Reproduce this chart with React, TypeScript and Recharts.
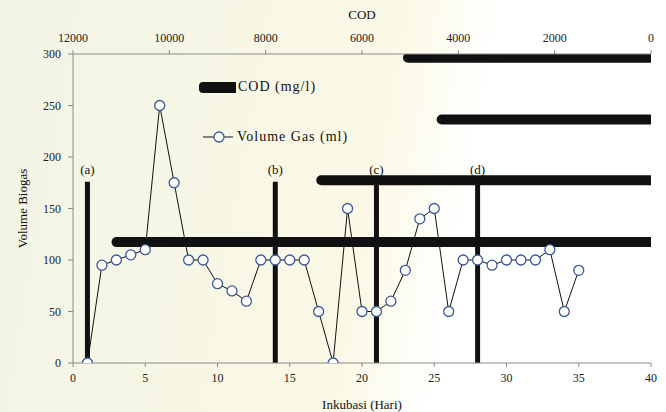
import React from 'react';
import {
  ComposedChart,
  BarChart,
  Bar,
  Line,
  XAxis,
  YAxis,
  ReferenceLine,
  Legend,
} from 'recharts';

// hari inkubasi & volume gas harian (ml)
const days = [
  1, 2, 3, 4, 5, 6, 7, 8, 9, 10, 11, 12, 13, 14, 15, 16, 17, 18,
  19, 20, 21, 22, 23, 24, 25, 26, 27, 28, 29, 30, 31, 32, 33, 34, 35,
];
const volumeGas = [
  0, 95, 100, 105, 110, 250, 175, 100, 100, 77, 70, 60, 100, 100, 100, 100, 50, 0,
  150, 50, 50, 60, 90, 140, 150, 50, 100, 100, 95, 100, 100, 100, 110, 50, 90,
];

// COD (mg/l), bottom bar first, and the volume level each bar sits at
const codValues = [11200, 6950, 4450, 5150];
const codLevel = [117, 177, 236, 296];

// tahap (a)-(d)
const stageLabels = ['(a)', '(b)', '(c)', '(d)'];
const stageDays = [1, 14, 21, 28];
const stageTop = 176;

const dayTicks = [0, 5, 10, 15, 20, 25, 30, 35, 40];
const codTicks = [0, 2000, 4000, 6000, 8000, 10000, 12000];
const volumeTicks = [0, 50, 100, 150, 200, 250, 300];

const gasData = days.map((d, i) => ({ day: d, gas: volumeGas[i] }));
const codData = codValues.map((v, i) => ({ cod: v, level: codLevel[i] }));

const FONT = '"Liberation Serif", "Times New Roman", Times, serif';
const INK = '#111';
const AXIS = '#8a8a8a';
const DOT = '#3d5a96';
const tickStyle = { fontSize: 12, fill: '#222' };
const titleStyle = { fontSize: 13, fill: INK };

const W = 666;
const H = 412;
const M_TOP = 54;
const M_BOTTOM = 49;
const M_LEFT = 73;
const M_RIGHT = 15;

const renderLegend = () => (
  <div style={{ fontSize: 14, letterSpacing: 1, color: INK }}>
    <div style={{ display: 'flex', alignItems: 'center', height: 20 }}>
      <span
        style={{
          display: 'inline-block',
          width: 37,
          height: 11,
          background: INK,
          borderRadius: '4px 0 0 4px',
          marginRight: 2,
        }}
      />
      COD (mg/l)
    </div>
    <div style={{ display: 'flex', alignItems: 'center', height: 20, marginTop: 30, paddingLeft: 4 }}>
      <svg width={30} height={14}>
        <line x1={0} y1={7} x2={30} y2={7} stroke={INK} strokeWidth={1} />
        <circle cx={16} cy={7} r={5} fill="#fff" stroke={DOT} strokeWidth={1.3} />
      </svg>
      <span style={{ marginLeft: 4 }}>Volume Gas (ml)</span>
    </div>
  </div>
);

const yTitle = (props: any) => {
  const { viewBox } = props;
  const cy = viewBox.y + viewBox.height / 2;
  return (
    <text
      x={22}
      y={cy}
      transform={`rotate(-90 22 ${cy})`}
      textAnchor="middle"
      dominantBaseline="central"
      fontSize={13}
      fill={INK}
    >
      Volume Biogas
    </text>
  );
};

export default function App() {
  return (
    <div
      style={{
        position: 'absolute',
        left: 0,
        top: 0,
        width: W,
        height: H,
        fontFamily: FONT,
        background: 'linear-gradient(100deg, #f2f4e6 0%, #fbf9e6 55%, #ffffff 68%)',
      }}
    >
      {/* COD bars, on the top (reversed) axis */}
      <div style={{ position: 'absolute', left: 0, top: 0 }}>
        <BarChart
          width={W}
          height={H}
          data={codData}
          layout="vertical"
          margin={{ top: 0, right: M_RIGHT, bottom: M_BOTTOM, left: M_LEFT }}
        >
          <XAxis
            type="number"
            dataKey="cod"
            orientation="top"
            domain={[0, 12000]}
            ticks={codTicks}
            reversed
            allowDataOverflow
            height={M_TOP}
            stroke={AXIS}
            tickSize={4}
            tickMargin={8}
            tick={tickStyle}
            label={{ value: 'COD', position: 'insideTop', offset: 10, style: titleStyle }}
          />
          <YAxis type="number" dataKey="level" domain={[0, 300]} allowDataOverflow reversed hide />
          <Bar
            dataKey="cod"
            barSize={10}
            fill={INK}
            radius={[0, 5, 5, 0]}
            isAnimationActive={false}
          />
        </BarChart>
      </div>

      {/* volume gas + stage markers */}
      <div style={{ position: 'absolute', left: 0, top: 0 }}>
        <ComposedChart
          width={W}
          height={H}
          data={gasData}
          margin={{ top: M_TOP, right: M_RIGHT, bottom: 0, left: 0 }}
        >
          <XAxis
            dataKey="day"
            type="number"
            domain={[0, 40]}
            ticks={dayTicks}
            allowDataOverflow
            height={M_BOTTOM}
            stroke={AXIS}
            tickSize={4}
            tickMargin={6}
            tick={tickStyle}
            label={{ value: 'Inkubasi (Hari)', position: 'insideBottom', offset: 3, style: titleStyle }}
          />
          <YAxis
            type="number"
            domain={[0, 300]}
            ticks={volumeTicks}
            allowDataOverflow
            width={M_LEFT}
            stroke={AXIS}
            tickSize={5}
            tickMargin={7}
            tick={tickStyle}
            label={yTitle}
          />

          {stageDays.map((d, i) => (
            <ReferenceLine
              key={`stage-${i}`}
              segment={[
                { x: d, y: 0 },
                { x: d, y: stageTop },
              ]}
              stroke={INK}
              strokeWidth={5}
              ifOverflow="visible"
              label={{ value: stageLabels[i], position: 'top', offset: 8, style: titleStyle }}
            />
          ))}

          <Line
            dataKey="gas"
            type="linear"
            stroke={INK}
            strokeWidth={1}
            dot={{ r: 5, fill: '#fff', stroke: DOT, strokeWidth: 1.3 }}
            activeDot={false}
            isAnimationActive={false}
          />

          <Legend
            layout="vertical"
            align="center"
            verticalAlign="middle"
            content={renderLegend}
            wrapperStyle={{ left: 199, top: 77, width: 220 }}
          />
        </ComposedChart>
      </div>
    </div>
  );
}
